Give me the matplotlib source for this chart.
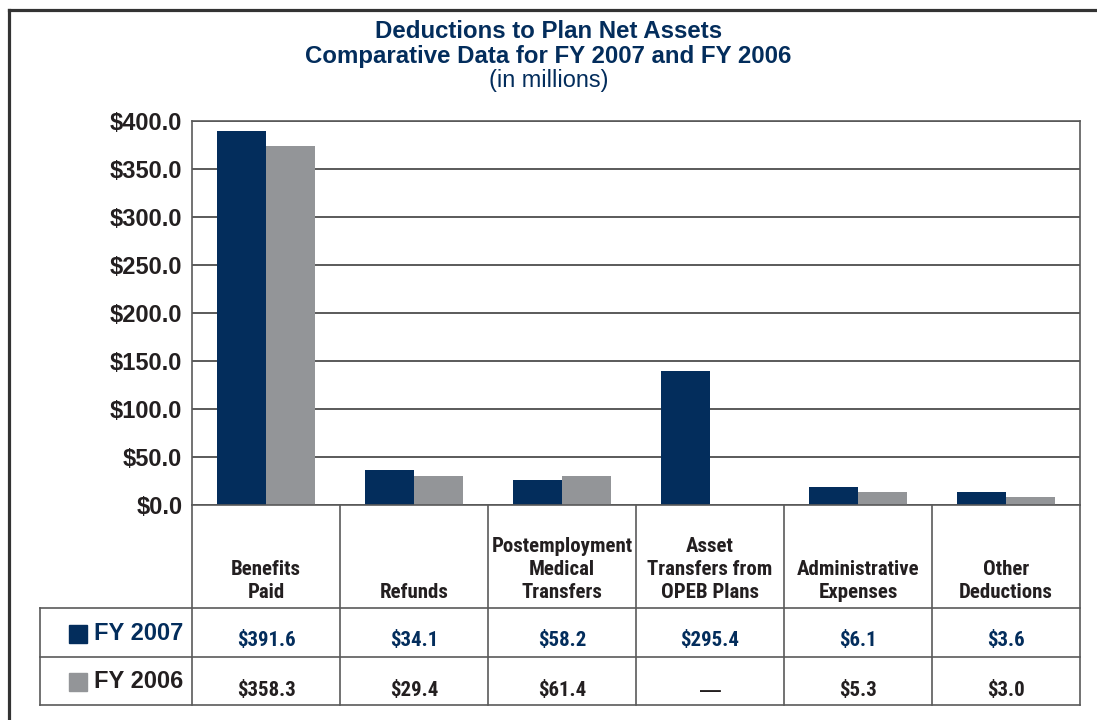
import matplotlib
matplotlib.use("Agg")
import matplotlib.pyplot as plt
from matplotlib import font_manager
from matplotlib.font_manager import FontProperties
from matplotlib.lines import Line2D
from matplotlib.patches import Rectangle
import matplotlib.transforms as mtransforms
import numpy as np
import os

# =========================
# Data
# =========================
categories = ["Benefits\nPaid", "Refunds", "Postemployment\nMedical\nTransfers",
              "Asset\nTransfers from\nOPEB Plans", "Administrative\nExpenses", "Other\nDeductions"]
# bar heights as drawn in the chart (in millions)
fy2007_bars = [389.6, 36.5, 26.0, 139.6, 18.8, 13.5]
fy2006_bars = [374.0, 30.2, 30.2, 0.0, 13.5, 8.3]
# values printed in the table below the chart
fy2007_labels = ["$391.6", "$34.1", "$58.2", "$295.4", "$6.1", "$3.6"]
fy2006_labels = ["$358.3", "$29.4", "$61.4", "\u2014", "$5.3", "$3.0"]
series_names = ["FY 2007", "FY 2006"]
y_ticks = [0, 50, 100, 150, 200, 250, 300, 350, 400]

NAVY = "#032d5c"
GRAY = "#939598"
TEXT = "#231f20"
LINE = "#5a5a5a"

SANS = ["Liberation Sans", "DejaVu Sans"]
plt.rcParams["font.family"] = SANS


# look for a bold condensed face (the original uses a condensed Helvetica)
def find_condensed_bold():
    prefs = ["LiberationSansNarrow", "RobotoCondensed", "NotoSans-Condensed",
             "OpenSans_Condensed", "OpenSans-Condensed", "DejaVuSansCondensed"]
    files = [f.fname for f in font_manager.fontManager.ttflist]
    for p in prefs:
        for fn in files:
            base = os.path.basename(fn)
            if p.lower() in base.replace(" ", "").lower() and "bold" in base.lower() \
                    and "italic" not in base.lower() and "oblique" not in base.lower() \
                    and "semi" not in base.lower() and "extra" not in base.lower():
                return FontProperties(fname=fn)
    return FontProperties(family=SANS, weight="bold")


COND = find_condensed_bold()
BOLD = FontProperties(family=SANS, weight="bold")
REG = FontProperties(family=SANS)

W, H = 1097, 720
fig = plt.figure(figsize=(W / 100, H / 100), dpi=100)
renderer = fig.canvas.get_renderer()


def fx(px):
    return px / W


def fy(py):
    return 1 - py / H


def sized(fp, size):
    fp = fp.copy()
    fp.set_size(size)
    return fp


def fit_size(text, target_px, fp):
    # font size so that the text is about target_px wide
    t = fig.text(0, 0, text, fontproperties=sized(fp, 20))
    w = t.get_window_extent(renderer).width
    t.remove()
    return 20 * target_px / w


cond_size = fit_size("Postemployment", 141, COND)
title_size = fit_size("Deductions to Plan Net Assets", 347, BOLD)
sub_size = fit_size("(in millions)", 119, REG)

# outer frame (left and top edges visible)
fig.add_artist(Line2D([fx(9), fx(9)], [fy(10), fy(720)], color="#333333", lw=2.3))
fig.add_artist(Line2D([fx(9), fx(1097)], [fy(10), fy(10)], color="#333333", lw=2.3))

# titles
fig.text(0.5, fy(31), "Deductions to Plan Net Assets", ha="center", va="center",
         fontproperties=sized(BOLD, title_size), color=NAVY)
fig.text(0.5, fy(56), "Comparative Data for FY 2007 and FY 2006", ha="center", va="center",
         fontproperties=sized(BOLD, title_size), color=NAVY)
fig.text(0.5, fy(81), "(in millions)", ha="center", va="center",
         fontproperties=sized(REG, sub_size), color=NAVY)

# =========================
# Bar chart
# =========================
left, right, top, bottom = 192, 1080, 121, 505
ax = fig.add_axes([fx(left), fy(bottom), fx(right - left), (bottom - top) / H])

x = np.arange(len(categories)) + 0.5
width = 0.33
ax.bar(x - width / 2, fy2007_bars, width, color=NAVY, zorder=3)
ax.bar(x + width / 2, fy2006_bars, width, color=GRAY, zorder=3)

ax.set_xlim(0, len(categories))
ax.set_ylim(0, 400)
ax.set_yticks(y_ticks)
ax.set_yticklabels([f"${v:.1f}" for v in y_ticks])
ax.set_xticks([])
ax.tick_params(axis="y", length=0, pad=7, labelsize=17, labelcolor=TEXT)
for lbl in ax.get_yticklabels():
    lbl.set_fontweight("bold")
ax.yaxis.grid(True, color=LINE, lw=1.4, zorder=0)
for s in ax.spines.values():
    s.set_color(LINE)
    s.set_linewidth(1.2)
ax.spines["bottom"].set_zorder(4)

# =========================
# Data table under the chart
# =========================
trans = mtransforms.blended_transform_factory(ax.transData, fig.transFigure)
hdr_bot, row1_bot, row2_bot = 608, 657, 705
leg_left = 40


def hline(y, x0, x1):
    fig.add_artist(Line2D([fx(x0), fx(x1)], [fy(y), fy(y)], color=LINE, lw=1.2))


# column dividers (at category edges)
for i in range(len(categories) + 1):
    fig.add_artist(Line2D([i, i], [fy(bottom), fy(row2_bot)], color=LINE, lw=1.2,
                          transform=trans))
fig.add_artist(Line2D([fx(leg_left), fx(leg_left)], [fy(hdr_bot), fy(row2_bot)],
                      color=LINE, lw=1.2))
for yy in [hdr_bot, row1_bot, row2_bot]:
    hline(yy, leg_left, right)

# category headers (bottom aligned)
for xi, cat in zip(x, categories):
    fig.text(xi, fy(hdr_bot - 6), cat, transform=trans, ha="center", va="bottom",
             fontproperties=sized(COND, cond_size), color=TEXT, linespacing=1.27)


def value_font(label):
    # the long dash looks wider in the original than in the condensed face
    return sized(BOLD if label == "\u2014" else COND, cond_size)


# value rows
for xi, v7, v6 in zip(x, fy2007_labels, fy2006_labels):
    fig.text(xi, fy(641), v7, transform=trans, ha="center", va="center",
             fontproperties=value_font(v7), color=NAVY)
    fig.text(xi, fy(690), v6, transform=trans, ha="center", va="center",
             fontproperties=value_font(v6), color=TEXT)

# legend cells
for name, col, tcol, yc in [(series_names[0], NAVY, NAVY, 634),
                            (series_names[1], GRAY, TEXT, 682)]:
    fig.add_artist(Rectangle((fx(69), fy(yc + 9)), 18 / W, 18 / H, color=col,
                             transform=fig.transFigure))
    fig.text(fx(183), fy(yc), name, ha="right", va="center",
             fontsize=17, fontweight="bold", color=tcol)

fig.savefig("out.png", dpi=100)
